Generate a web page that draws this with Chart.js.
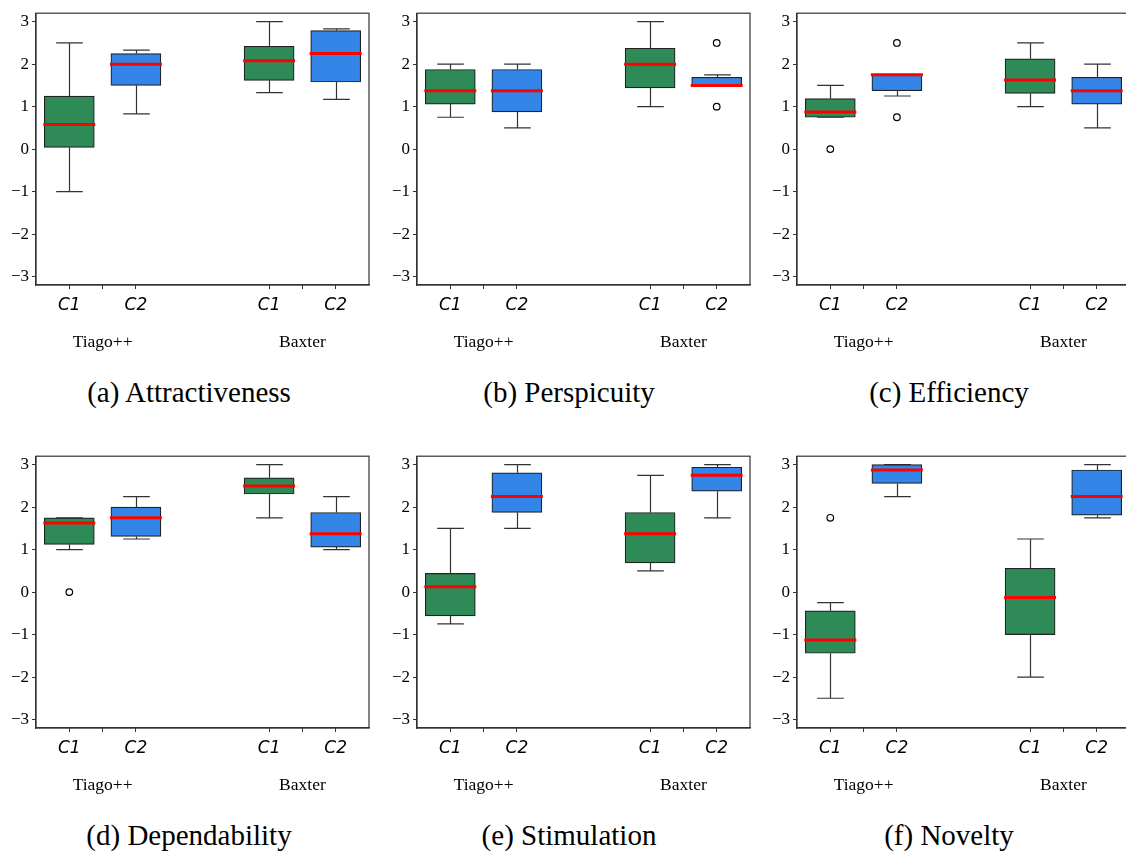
<!DOCTYPE html>
<html lang="en">
<head>
  <meta charset="UTF-8" />
  <title>UEQ box plots</title>
  <script src="https://cdn.jsdelivr.net/npm/chart.js"></script>
  <style>
    body {
      margin: 0;
      background: #fff;
      width: 1126px;
      height: 851px;
      overflow: hidden;
      position: relative;
    }
    .panel {
      position: absolute;
      width: 375px;
      height: 357px;
    }
    .caption {
      position: absolute;
      width: 378px;
      text-align: center;
      font-family: 'Liberation Serif', 'DejaVu Serif', serif;
      font-size: 29px;
      color: #000;
    }
  </style>
</head>
<body>
  <div id="root"></div>

  <script>
    // box positions and tick labels
    const positions = [1, 2, 4, 5];
    const xTicks = [1, 1.5, 2, 4, 4.5, 5];
    const xTickLabels = ['C1', '', 'C2', 'C1', '', 'C2'];
    const groupTicks = [1.5, 4.5];
    const groupLabels = ['Tiago++', 'Baxter'];
    const yTicks = [-3, -2, -1, 0, 1, 2, 3];
    const boxColors = ['#2e8b57', '#3385e8', '#2e8b57', '#3385e8'];

    const captions = ['(a) Attractiveness', '(b) Perspicuity', '(c) Efficiency',
                      '(d) Dependability', '(e) Stimulation', '(f) Novelty'];

    // each box: [low whisker, q1, median, q3, high whisker]
    const attractiveness = [[-1, 0.04, 0.58, 1.25, 2.5], [0.83, 1.5, 2.0, 2.25, 2.33],
                            [1.33, 1.62, 2.08, 2.42, 3.0], [1.17, 1.58, 2.25, 2.79, 2.83]];
    const perspicuity = [[0.75, 1.06, 1.375, 1.875, 2.0], [0.5, 0.875, 1.375, 1.875, 2.0],
                         [1.0, 1.44, 2.0, 2.375, 3.0], [1.5, 1.5, 1.5, 1.69, 1.75]];
    const efficiency = [[0.75, 0.75, 0.875, 1.19, 1.5], [1.25, 1.375, 1.75, 1.75, 1.75],
                        [1.0, 1.31, 1.625, 2.125, 2.5], [0.5, 1.06, 1.375, 1.69, 2.0]];
    const dependability = [[1.0, 1.125, 1.625, 1.75, 1.75], [1.25, 1.31, 1.75, 2.0, 2.25],
                           [1.75, 2.31, 2.5, 2.69, 3.0], [1.0, 1.06, 1.375, 1.875, 2.25]];
    const stimulation = [[-0.75, -0.56, 0.125, 0.44, 1.5], [1.5, 1.875, 2.25, 2.81, 3.0],
                         [0.5, 0.69, 1.375, 1.875, 2.75], [1.75, 2.375, 2.75, 2.94, 3.0]];
    const novelty = [[-2.5, -1.44, -1.125, -0.44, -0.25], [2.25, 2.56, 2.875, 3.0, 3.0],
                     [-2.0, -1.0, -0.125, 0.56, 1.25], [1.75, 1.81, 2.25, 2.875, 3.0]];

    // outliers: [box index, value]
    const attractivenessOut = [];
    const perspicuityOut = [[3, 2.5], [3, 1.0]];
    const efficiencyOut = [[0, 0], [1, 2.5], [1, 0.75]];
    const dependabilityOut = [[0, 0]];
    const stimulationOut = [];
    const noveltyOut = [[0, 1.75]];

    const allBoxes = [attractiveness, perspicuity, efficiency, dependability, stimulation, novelty];
    const allOut = [attractivenessOut, perspicuityOut, efficiencyOut, dependabilityOut, stimulationOut, noveltyOut];

    const serif = "'Liberation Serif', 'DejaVu Serif', serif";

    // whiskers, caps, medians and frame
    const boxPlugin = {
      id: 'boxParts',
      beforeDatasetsDraw(chart) {
        const boxes = chart.options.plugins.boxParts.boxes;
        const xs = chart.scales.x, ys = chart.scales.y;
        const ctx = chart.ctx;
        const capHalf = xs.getPixelForValue(1.2) - xs.getPixelForValue(1);
        ctx.save();
        ctx.strokeStyle = '#333';
        ctx.lineWidth = 1.2;
        boxes.forEach((b, i) => {
          const px = Math.round(xs.getPixelForValue(positions[i])) + 0.5;
          ctx.beginPath();
          ctx.moveTo(px, ys.getPixelForValue(b[0]));
          ctx.lineTo(px, ys.getPixelForValue(b[1]));
          ctx.moveTo(px, ys.getPixelForValue(b[3]));
          ctx.lineTo(px, ys.getPixelForValue(b[4]));
          ctx.moveTo(px - capHalf, ys.getPixelForValue(b[0]));
          ctx.lineTo(px + capHalf, ys.getPixelForValue(b[0]));
          ctx.moveTo(px - capHalf, ys.getPixelForValue(b[4]));
          ctx.lineTo(px + capHalf, ys.getPixelForValue(b[4]));
          ctx.stroke();
        });
        ctx.restore();
      },
      afterDatasetsDraw(chart) {
        const boxes = chart.options.plugins.boxParts.boxes;
        const xs = chart.scales.x, ys = chart.scales.y;
        const ctx = chart.ctx;
        const half = xs.getPixelForValue(1.39) - xs.getPixelForValue(1);
        ctx.save();
        ctx.strokeStyle = '#ff0000';
        ctx.lineWidth = 3;
        boxes.forEach((b, i) => {
          const px = xs.getPixelForValue(positions[i]);
          const py = ys.getPixelForValue(b[2]);
          ctx.beginPath();
          ctx.moveTo(px - half, py);
          ctx.lineTo(px + half, py);
          ctx.stroke();
        });
        const a = chart.chartArea;
        ctx.strokeStyle = '#333';
        ctx.lineWidth = 1.2;
        ctx.strokeRect(a.left, a.top, a.right - a.left, a.bottom - a.top);
        ctx.restore();
      }
    };

    const root = document.getElementById('root');

    allBoxes.forEach((boxes, p) => {
      const col = p % 3, row = Math.floor(p / 3);
      const left = col * 380 + (col === 0 ? 0 : 1);
      const top = row * 443;

      const div = document.createElement('div');
      div.className = 'panel';
      div.style.left = left + 'px';
      div.style.top = top + 'px';
      const canvas = document.createElement('canvas');
      div.appendChild(canvas);
      root.appendChild(div);

      const cap = document.createElement('div');
      cap.className = 'caption';
      cap.style.left = (col * 380) + 'px';
      cap.style.top = (top + 376) + 'px';
      cap.textContent = captions[p];
      root.appendChild(cap);

      new Chart(canvas.getContext('2d'), {
        type: 'bar',
        data: {
          datasets: [{
            type: 'bar',
            data: boxes.map((b, i) => ({ x: positions[i], y: [b[1], b[3]] })),
            backgroundColor: boxColors,
            borderColor: '#222',
            borderWidth: 1.2,
            borderSkipped: false,
            barThickness: 50,
            order: 2
          }, {
            type: 'scatter',
            data: allOut[p].map(o => ({ x: positions[o[0]], y: o[1] })),
            pointStyle: 'circle',
            pointRadius: 3.3,
            backgroundColor: '#fff',
            borderColor: '#000',
            borderWidth: 1.2,
            order: 1
          }]
        },
        options: {
          responsive: true,
          maintainAspectRatio: false,
          animation: false,
          layout: { padding: { top: 10, right: 6, left: 0, bottom: 0 } },
          plugins: {
            legend: { display: false },
            tooltip: { enabled: false },
            boxParts: { boxes: boxes }
          },
          scales: {
            x: {
              type: 'linear',
              position: 'bottom',
              offset: false,
              weight: 0,
              min: 0.5,
              max: 5.5,
              afterBuildTicks: s => { s.ticks = xTicks.map(v => ({ value: v })); },
              afterFit: s => { s.height = 32; },
              ticks: {
                autoSkip: false,
                maxRotation: 0,
                padding: 6,
                color: '#000',
                font: { family: "'DejaVu Sans', sans-serif", size: 17, style: 'italic' },
                callback: (v) => xTickLabels[xTicks.indexOf(v)]
              },
              grid: { display: true, offset: false, drawOnChartArea: false, drawTicks: true, tickLength: 4, color: '#333' },
              border: { display: true, color: '#333', width: 1.2 }
            },
            x2: {
              type: 'linear',
              position: 'bottom',
              offset: false,
              weight: 1,
              min: 0.5,
              max: 5.5,
              afterBuildTicks: s => { s.ticks = groupTicks.map(v => ({ value: v })); },
              afterFit: s => { s.height = 40; },
              ticks: {
                autoSkip: false,
                maxRotation: 0,
                padding: 15,
                color: '#000',
                font: { family: serif, size: 17.5 },
                callback: (v) => groupLabels[groupTicks.indexOf(v)]
              },
              grid: { display: false, offset: false, drawTicks: false },
              border: { display: false }
            },
            y: {
              type: 'linear',
              min: -3.2,
              max: 3.2,
              afterBuildTicks: s => { s.ticks = yTicks.map(v => ({ value: v })); },
              afterFit: s => { s.width = 36; },
              ticks: {
                padding: 3,
                color: '#000',
                font: { family: serif, size: 17 },
                callback: v => (v < 0 ? '\u2212' + Math.abs(v) : String(v))
              },
              grid: { display: true, drawOnChartArea: false, drawTicks: true, tickLength: 4, color: '#333' },
              border: { display: true, color: '#333', width: 1.2 }
            }
          }
        },
        plugins: [boxPlugin]
      });
    });
  </script>
</body>
</html>
